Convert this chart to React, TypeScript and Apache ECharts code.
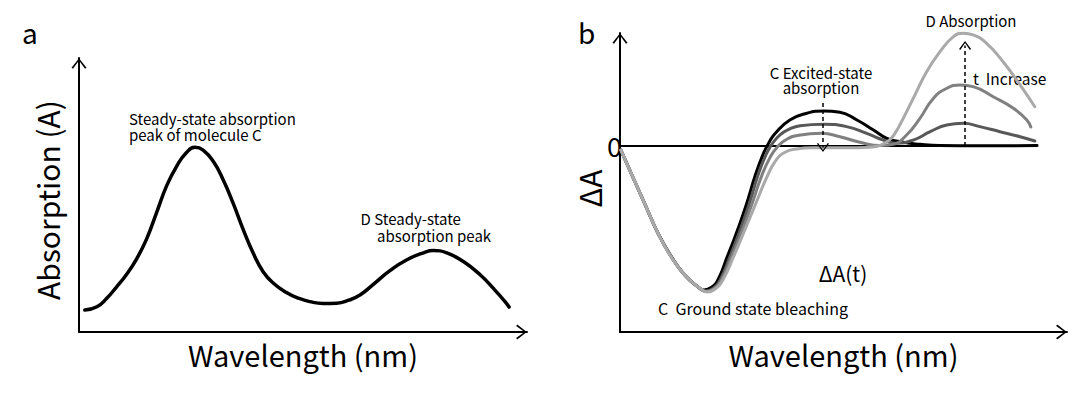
import { useEffect, useRef } from 'react';
import * as echarts from 'echarts';

const FONT = '"Noto Sans CJK SC", "Noto Sans", sans-serif';

// ---------- Panel a: steady-state absorption spectrum (arbitrary units) ----------
const absorptionSpectrum: number[][] = [
  [1.3, 8.0], [4.0, 9.2], [6.2, 12.3], [8.4, 16.5], [10.6, 21.0], [12.9, 26.8],
  [15.1, 34.0], [17.3, 43.5], [19.6, 53.5], [21.8, 60.5], [24.0, 65.5], [25.9, 67.4],
  [27.7, 66.4], [30.0, 62.2], [32.2, 55.5], [34.4, 47.0], [36.7, 37.2], [38.9, 28.7],
  [41.1, 22.0], [43.4, 17.8], [46.4, 14.3], [48.9, 12.4], [51.5, 11.1], [54.5, 10.4],
  [57.5, 10.5], [60.2, 11.6], [62.8, 13.6], [65.7, 17.4], [69.4, 22.4], [73.1, 26.3],
  [76.9, 28.9], [79.1, 29.7], [82.1, 28.9], [85.8, 25.7], [89.6, 20.8], [92.5, 15.9],
  [95.1, 11.1], [96.0, 9.1],
];

// ---------- Panel b: transient absorption ΔA(t), four delay times ----------
const deltaA_t0: number[][] = [
  [0.2, -2.2], [2.5, -14.7], [5.5, -30.8], [8.5, -46.9], [11.5, -59.5], [14.5, -69.4],
  [17.4, -75.6], [18.8, -77.4], [20.4, -76.1], [21.9, -72.0], [24.0, -59.5], [26.0, -47.0],
  [28.2, -32.0], [30.3, -15.5], [32.0, -4.5], [33.3, 1.8], [34.8, 7.0], [38.0, 14.0],
  [41.8, 17.6], [45.5, 18.8], [49.2, 18.1], [53.0, 14.0], [56.7, 8.6], [59.7, 4.1],
  [62.6, 2.3], [67.1, 0.9], [71.6, 0.2], [80.0, 0.1], [93.3, 0.2],
];
const deltaA_t1: number[][] = [
  [0.2, -2.2], [2.5, -14.7], [5.5, -30.8], [8.5, -46.9], [11.5, -59.7], [14.6, -69.8],
  [17.6, -76.1], [19.1, -78.0], [20.8, -76.6], [22.4, -72.0], [24.6, -59.5], [26.6, -47.0],
  [28.8, -32.0], [30.9, -15.5], [32.6, -5.0], [34.0, 1.0], [35.8, 6.0], [38.0, 9.2],
  [40.3, 10.9], [45.5, 11.7], [50.7, 10.4], [55.2, 6.8], [58.9, 3.2], [61.9, 1.5],
  [65.6, 3.2], [69.4, 7.7], [73.1, 11.3], [76.8, 12.2], [80.5, 10.4], [85.0, 7.7],
  [89.5, 5.0], [92.8, 2.7],
];
const deltaA_t2: number[][] = [
  [0.2, -2.2], [2.5, -14.7], [5.5, -30.8], [8.5, -46.9], [11.5, -59.7], [14.7, -70.0],
  [17.8, -76.3], [19.3, -78.2], [21.0, -76.8], [22.7, -72.0], [25.0, -59.5], [27.1, -47.0],
  [29.4, -32.0], [31.7, -16.0], [33.6, -6.0], [35.2, -0.5], [37.3, 3.6], [40.0, 5.8],
  [45.1, 6.8], [49.2, 5.0], [53.7, 2.0], [58.2, 0.2], [61.1, 0.9], [64.1, 5.9],
  [67.1, 14.9], [70.1, 25.6], [73.1, 31.0], [76.1, 32.8], [79.0, 31.9], [83.5, 26.5],
  [88.0, 20.3], [91.0, 14.0], [91.9, 10.2],
];
const deltaA_t3: number[][] = [
  [0.2, -2.2], [2.5, -14.7], [5.5, -30.8], [8.5, -46.9], [11.5, -59.9], [14.8, -70.2],
  [18.0, -76.6], [19.5, -78.5], [21.2, -77.0], [23.0, -72.0], [25.4, -59.5], [27.6, -47.0],
  [30.2, -32.0], [32.8, -17.0], [34.8, -8.0], [36.8, -3.5], [39.5, -1.6], [43.0, -1.0],
  [48.0, -1.0], [53.0, -1.0], [56.5, -0.6], [58.5, 0.6], [60.4, 3.5], [61.5, 6.8],
  [62.6, 11.3], [65.6, 25.6], [68.6, 39.9], [71.6, 50.7], [74.6, 58.8], [76.8, 60.6],
  [79.0, 59.7], [82.0, 55.2], [85.7, 45.3], [89.5, 32.8], [92.8, 21.1],
];
const zeroLine: number[][] = [[0, 0], [93.3, 0]];
// dashed arrows: [start, tip]
const arrowExcited: number[][] = [[45.4, 23.1], [45.4, -3.2]];
const arrowProductD: number[][] = [[77.2, 0], [77.2, 56.5]];

const curveColors = ['#000000', '#585858', '#808080', '#a9a9a9'];

const CHEVRON = 'path://M7,0 L14,9 L12.6,10 L7,2.2 L1.4,10 L0,9 Z';

function axisArrowLine() {
  return {
    show: true,
    onZero: false,
    lineStyle: { color: '#000', width: 2 },
    symbol: ['none', CHEVRON],
    symbolSize: [15, 11],
    symbolOffset: [0, -5.5],
  };
}

function buildOption() {
  const pxPerUnitB = 1.86;
  const headHalf = 4.5 / pxPerUnitB;
  const arrowSeg = (a: number[][]) => {
    const dir = a[1][1] > a[0][1] ? 1 : -1;
    return [{ coord: a[0] }, { coord: [a[1][0], a[1][1] - dir * headHalf] }];
  };
  const curve = (data: number[][], color: string, width: number, xi: number, yi: number) => ({
    type: 'line',
    data,
    xAxisIndex: xi,
    yAxisIndex: yi,
    smooth: 0.5,
    showSymbol: false,
    symbol: 'none',
    clip: false,
    lineStyle: { color, width, cap: 'round', join: 'round' },
    silent: true,
  });
  const text = (x: number, y: number, t: string, size: number, align = 'left', extra: any = {}) => ({
    type: 'text', x, y, ...extra,
    style: { text: t, fontSize: size, fontFamily: FONT, fill: '#000', align, verticalAlign: 'middle' },
  });
  return {
    animation: false,
    backgroundColor: '#fff',
    grid: [
      { left: 79, right: 553, top: 58, bottom: 62, outerBoundsMode: 'none' },
      { left: 620, right: 13, top: 33, bottom: 62, outerBoundsMode: 'none' },
    ],
    xAxis: [
      {
        gridIndex: 0, type: 'value', min: 0, max: 100,
        axisLine: axisArrowLine(), axisTick: { show: false }, axisLabel: { show: false },
        splitLine: { show: false },
        name: 'Wavelength (nm)', nameLocation: 'middle', nameGap: 7,
        nameTextStyle: { fontSize: 29, fontFamily: FONT, color: '#000' },
      },
      {
        gridIndex: 1, type: 'value', min: 0, max: 100,
        axisLine: axisArrowLine(), axisTick: { show: false }, axisLabel: { show: false },
        splitLine: { show: false },
        name: 'Wavelength (nm)', nameLocation: 'middle', nameGap: 7,
        nameTextStyle: { fontSize: 29, fontFamily: FONT, color: '#000' },
      },
    ],
    yAxis: [
      {
        gridIndex: 0, type: 'value', min: 0, max: 100,
        axisLine: axisArrowLine(), axisTick: { show: false }, axisLabel: { show: false },
        splitLine: { show: false },
      },
      {
        gridIndex: 1, type: 'value', min: -100, max: 60.75, interval: 50,
        axisLine: axisArrowLine(), axisTick: { show: false },
        axisLabel: {
          show: true, margin: -2, fontSize: 27, fontFamily: FONT, color: '#000',
          padding: [5, 0, 0, 0],
          formatter: (v: number) => (v === 0 ? '0' : ''),
        },
        splitLine: { show: false },
      },
    ],
    series: [
      curve(absorptionSpectrum, '#000', 3.5, 0, 0),
      {
        type: 'line', data: zeroLine, xAxisIndex: 1, yAxisIndex: 1,
        showSymbol: false, symbol: 'none', silent: true,
        lineStyle: { color: '#000', width: 2 },
        markLine: {
          silent: true,
          symbol: ['none', CHEVRON],
          symbolSize: [12, 9],
          label: { show: false },
          lineStyle: { color: '#000', type: [4, 3], width: 1.5 },
          emphasis: { disabled: true },
          data: [arrowSeg(arrowExcited), arrowSeg(arrowProductD)],
        },
      },
      curve(deltaA_t0, curveColors[0], 3, 1, 1),
      curve(deltaA_t1, curveColors[1], 3, 1, 1),
      curve(deltaA_t2, curveColors[2], 3, 1, 1),
      curve(deltaA_t3, curveColors[3], 3, 1, 1),
    ],
    graphic: [
      text(22, 32, 'a', 28),
      text(578, 31.5, 'b', 28),
      text(46.5, 200, 'Absorption (A)', 30, 'center', { rotation: Math.PI / 2 }),
      text(589, 188.5, 'ΔA', 30, 'center', { rotation: Math.PI / 2 }),
      text(129, 118, 'Steady-state absorption', 15),
      text(129, 134, 'peak of molecule C', 15),
      text(360.5, 218, 'D Steady-state', 15),
      text(377, 235, 'absorption peak', 15),
      text(821, 72.5, 'C Excited-state', 15, 'center'),
      text(821, 87.5, 'absorption', 15, 'center'),
      text(971, 20.5, 'D Absorption', 15, 'center'),
      text(973, 78, 't  Increase', 15.5),
      text(843, 272.5, 'ΔA(t)', 21, 'center'),
      text(658, 308, 'C  Ground state bleaching', 16),
    ],
  };
}

export default function App() {
  const ref = useRef<HTMLDivElement>(null);
  useEffect(() => {
    if (!ref.current) return;
    const chart = echarts.init(ref.current, null, { renderer: 'svg' });
    chart.setOption(buildOption() as any);
    return () => chart.dispose();
  }, []);
  return (
    <div
      ref={ref}
      style={{ position: 'absolute', left: 0, top: 0, width: 1080, height: 394, background: '#fff' }}
    />
  );
}
